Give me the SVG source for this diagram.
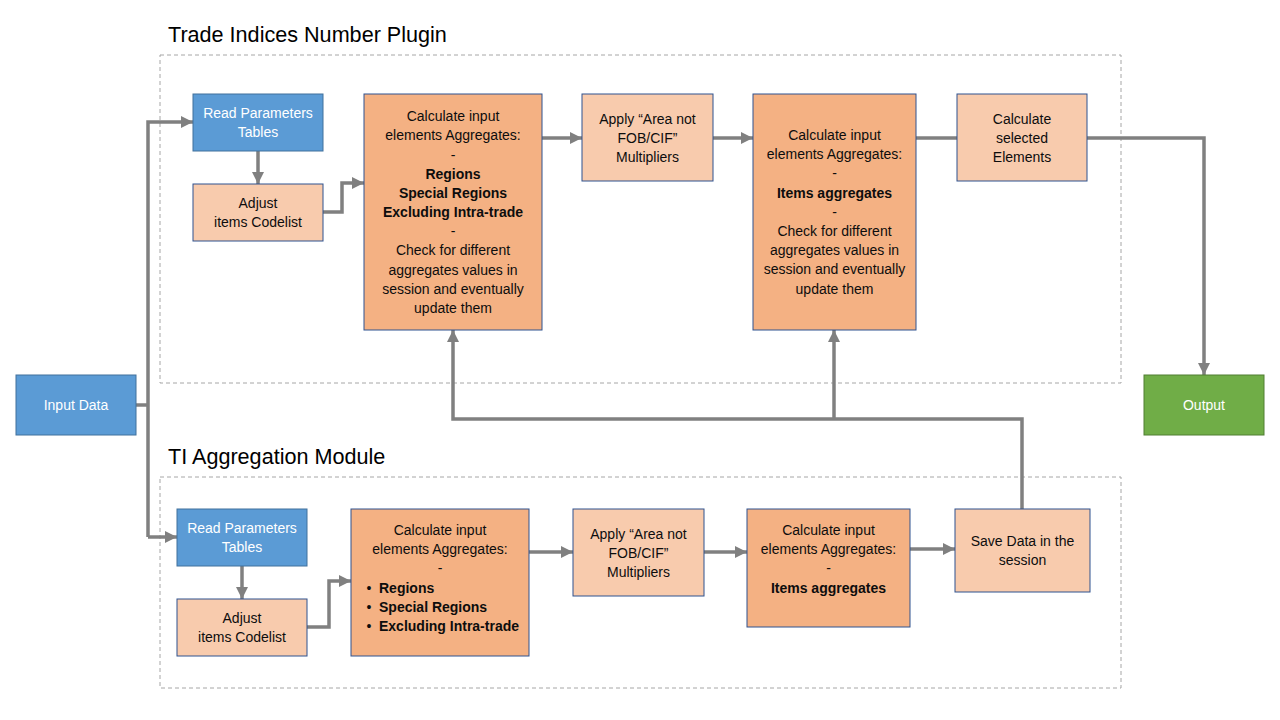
<svg xmlns="http://www.w3.org/2000/svg" width="1280" height="720" viewBox="0 0 1280 720">
<style>
text{font-family:"Liberation Sans",Arial,sans-serif;font-size:14px;fill:#0d0d0d;text-anchor:middle}
.w{fill:#ffffff}
.b{font-weight:bold}
.t{font-size:21.6px;text-anchor:start;fill:#000}
.blue{fill:#5b9bd5;stroke:#41719c;stroke-width:1}
.lo{fill:#f8cbad;stroke:#2f528f;stroke-width:1}
.or{fill:#f4b183;stroke:#2f528f;stroke-width:1}
.gr{fill:#70ad47;stroke:#507e32;stroke-width:1}
.grp{fill:none;stroke:#a6a6a6;stroke-width:1;stroke-dasharray:4 3}
.c{fill:none;stroke:#808080;stroke-width:3.5}
.a{marker-end:url(#ah)}
</style>
<defs>
<marker id="ah" markerUnits="userSpaceOnUse" markerWidth="12" markerHeight="12" viewBox="0 0 12 12" refX="12" refY="6" orient="auto">
<path d="M0,0 L12,6 L0,12 z" fill="#808080"/>
</marker>
</defs>

<g id="groups">
<rect class="grp" x="160" y="55" width="961" height="328"/>
<rect class="grp" x="160" y="477" width="961" height="211"/>
<text class="t" x="168" y="42">Trade Indices Number Plugin</text>
<text class="t" x="168" y="464">TI Aggregation Module</text>
</g>

<g id="connectors">
<path class="c" d="M136,405 H148"/>
<path class="c a" d="M148,537 V122 H193"/>
<path class="c a" d="M148,537 H177"/>
<path class="c a" d="M258,151 V184"/>
<path class="c a" d="M323,212 H342 V183 H364"/>
<path class="c a" d="M542,138 H582"/>
<path class="c a" d="M713,138 H753"/>
<path class="c" d="M916,138 H957"/>
<path class="c a" d="M1087,138 H1204 V375"/>
<path class="c a" d="M242,566 V599"/>
<path class="c a" d="M307,627 H329 V581 H351"/>
<path class="c a" d="M529,552 H573"/>
<path class="c a" d="M704,552 H747"/>
<path class="c a" d="M910,549 H955"/>
<path class="c a" d="M1022,509 V419 H453 V330"/>
<path class="c a" d="M834,419 V330"/>
</g>

<g id="input">
<rect class="blue" x="16" y="375" width="120" height="60"/>
<text class="w" x="76" y="410">Input Data</text>
</g>
<g id="output">
<rect class="gr" x="1144" y="375" width="120" height="60"/>
<text class="w" x="1204" y="410">Output</text>
</g>

<g id="top-read">
<rect class="blue" x="193" y="94" width="130" height="57"/>
<text class="w" x="258" y="118">Read Parameters</text>
<text class="w" x="258" y="137">Tables</text>
</g>
<g id="top-adjust">
<rect class="lo" x="193" y="184" width="130" height="57"/>
<text x="258" y="208">Adjust</text>
<text x="258" y="227">items Codelist</text>
</g>
<g id="top-calc1">
<rect class="or" x="364" y="94" width="178" height="236"/>
<text x="453" y="121">Calculate input</text>
<text x="453" y="140">elements Aggregates:</text>
<text x="453" y="160">-</text>
<text class="b" x="453" y="179">Regions</text>
<text class="b" x="453" y="198">Special Regions</text>
<text class="b" x="453" y="217">Excluding Intra-trade</text>
<text x="453" y="236">-</text>
<text x="453" y="255">Check for different</text>
<text x="453" y="275">aggregates values in</text>
<text x="453" y="294">session and eventually</text>
<text x="453" y="313">update them</text>
</g>
<g id="top-apply">
<rect class="lo" x="582" y="94" width="131" height="87"/>
<text x="647.5" y="124">Apply “Area not</text>
<text x="647.5" y="143">FOB/CIF”</text>
<text x="647.5" y="162">Multipliers</text>
</g>
<g id="top-calc2">
<rect class="or" x="753" y="94" width="163" height="236"/>
<text x="834.5" y="140">Calculate input</text>
<text x="834.5" y="159">elements Aggregates:</text>
<text x="834.5" y="178">-</text>
<text class="b" x="834.5" y="198">Items aggregates</text>
<text x="834.5" y="217">-</text>
<text x="834.5" y="236">Check for different</text>
<text x="834.5" y="255">aggregates values in</text>
<text x="834.5" y="274">session and eventually</text>
<text x="834.5" y="294">update them</text>
</g>
<g id="top-select">
<rect class="lo" x="957" y="94" width="130" height="87"/>
<text x="1022" y="124">Calculate</text>
<text x="1022" y="143">selected</text>
<text x="1022" y="162">Elements</text>
</g>

<g id="bot-read">
<rect class="blue" x="177" y="509" width="130" height="57"/>
<text class="w" x="242" y="533">Read Parameters</text>
<text class="w" x="242" y="552">Tables</text>
</g>
<g id="bot-adjust">
<rect class="lo" x="177" y="599" width="130" height="57"/>
<text x="242" y="623">Adjust</text>
<text x="242" y="642">items Codelist</text>
</g>
<g id="bot-calc1">
<rect class="or" x="351" y="509" width="178" height="147"/>
<text x="440" y="535">Calculate input</text>
<text x="440" y="554">elements Aggregates:</text>
<text x="440" y="573">-</text>
<text x="369" y="593">•</text>
<text class="b" x="379" y="593" style="text-anchor:start">Regions</text>
<text x="369" y="612">•</text>
<text class="b" x="379" y="612" style="text-anchor:start">Special Regions</text>
<text x="369" y="631">•</text>
<text class="b" x="379" y="631" style="text-anchor:start">Excluding Intra-trade</text>
</g>
<g id="bot-apply">
<rect class="lo" x="573" y="509" width="131" height="87"/>
<text x="638.5" y="539">Apply “Area not</text>
<text x="638.5" y="558">FOB/CIF”</text>
<text x="638.5" y="577">Multipliers</text>
</g>
<g id="bot-calc2">
<rect class="or" x="747" y="509" width="163" height="118"/>
<text x="828.5" y="535">Calculate input</text>
<text x="828.5" y="554">elements Aggregates:</text>
<text x="828.5" y="573">-</text>
<text class="b" x="828.5" y="593">Items aggregates</text>
</g>
<g id="bot-save">
<rect class="lo" x="955" y="509" width="135" height="83"/>
<text x="1022.5" y="546">Save Data in the</text>
<text x="1022.5" y="565">session</text>
</g>
</svg>
